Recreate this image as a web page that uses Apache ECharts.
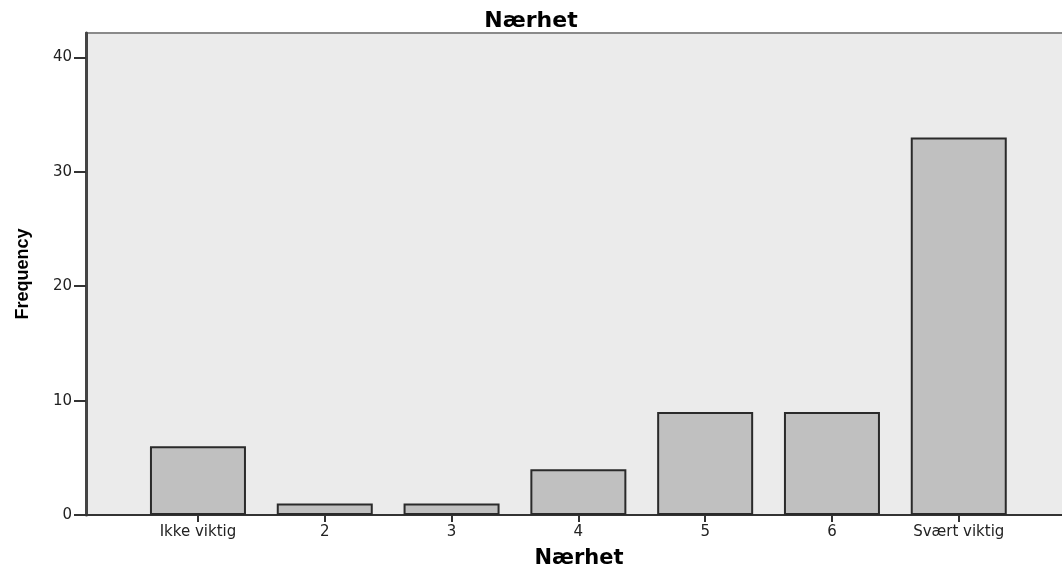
<!DOCTYPE html>
<html>
<head>
<meta charset="utf-8">
<script src="https://cdn.jsdelivr.net/npm/echarts@6/dist/echarts.min.js"></script>
<style>
html,body{margin:0;padding:0;background:#fff;}
#chart{width:1062px;height:567px;}
</style>
</head>
<body>
<div id="chart"></div>
<script>
const titleText = 'Nærhet';
const xAxisName = 'Nærhet';
const yAxisName = 'Frequency';
const categories = ['Ikke viktig', '2', '3', '4', '5', '6', 'Svært viktig'];
const frequencies = [6, 1, 1, 4, 9, 9, 33];
const yTicks = [0, 10, 20, 30, 40];

const positions = categories.map((c, i) => i);
const barData = frequencies.map((v, i) => [positions[i], v]);

const chart = echarts.init(document.getElementById('chart'), null, {renderer: 'canvas'});
chart.setOption({
  animation: false,
  backgroundColor: '#ffffff',
  title: {
    text: titleText,
    left: 'center',
    top: 5,
    textStyle: {fontFamily: 'DejaVu Sans', fontWeight: 'bold', fontSize: 22, color: '#000'}
  },
  grid: {
    left: 86, right: -2, top: 33, bottom: 52,
    containLabel: false,
    outerBoundsMode: 'none',
    show: true, backgroundColor: '#ebebeb', borderColor: '#8a8a8a', borderWidth: 2
  },
  xAxis: {
    type: 'value',
    min: -0.883,
    max: 6.83,
    name: xAxisName,
    nameLocation: 'middle',
    nameGap: 33,
    nameTextStyle: {fontFamily: 'DejaVu Sans', fontWeight: 'bold', fontSize: 21, color: '#000', padding: [0, 0, 0, 8]},
    splitLine: {show: false},
    axisLine: {show: true, onZero: false, lineStyle: {color: '#333', width: 2}},
    axisTick: {show: true, length: 7, customValues: positions, lineStyle: {color: '#333', width: 2}},
    axisLabel: {
      customValues: positions,
      margin: 10,
      fontFamily: 'DejaVu Sans', fontSize: 15, color: '#222',
      formatter: v => categories[Math.round(v)]
    }
  },
  yAxis: {
    type: 'value',
    min: 0,
    max: 42.14,
    interval: 10,
    name: yAxisName,
    nameLocation: 'middle',
    nameGap: 54,
    nameRotate: 90,
    nameTextStyle: {fontFamily: '"Liberation Sans", Arial, sans-serif', fontWeight: 'bold', fontSize: 18, color: '#000'},
    splitLine: {show: false},
    axisLine: {show: true, onZero: false, lineStyle: {color: '#444', width: 3}},
    axisTick: {show: true, length: 12, customValues: yTicks, lineStyle: {color: '#333', width: 2}},
    axisLabel: {
      customValues: yTicks,
      margin: 14,
      fontFamily: 'DejaVu Sans', fontSize: 15, color: '#222'
    }
  },
  series: [{
    type: 'bar',
    data: barData,
    barWidth: 96,
    itemStyle: {color: '#c0c0c0', borderColor: '#2a2a2a', borderWidth: 2}
  }]
});
</script>
</body>
</html>
